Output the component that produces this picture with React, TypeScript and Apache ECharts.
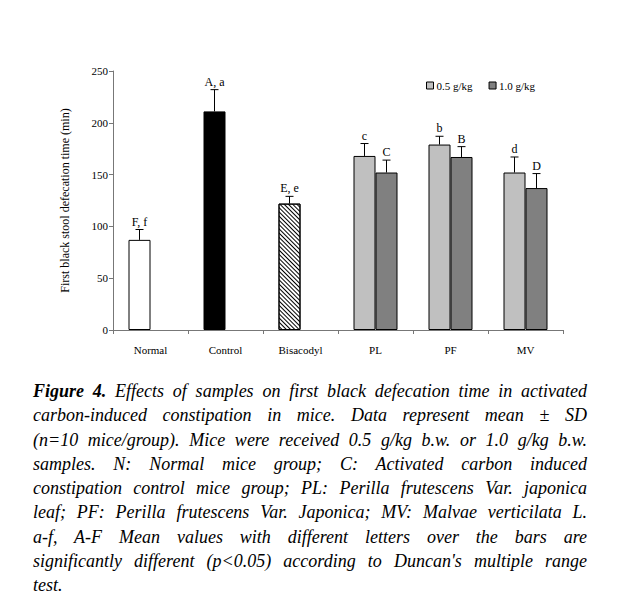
import React, { useEffect, useRef } from "react";
import * as echarts from "echarts";

const categories = ["Normal", "Control", "Bisacodyl", "PL", "PF", "MV"];
const dose05 = [87, 211, 122, 168, 179, 152];
const dose05Sd = [10, 21, 7, 12, 8, 15];
const dose05Letters = ["F, f", "A, a", "E, e", "c", "b", "d"];
const dose10: (number | null)[] = [null, null, null, 152, 167, 137];
const dose10Sd: (number | null)[] = [null, null, null, 12, 10, 14];
const dose10Letters = ["", "", "", "C", "B", "D"];
const seriesNames = ["0.5 g/kg", "1.0 g/kg"];
const yTicks = { min: 0, max: 250, interval: 50 };
const yName = "First black stool defecation time (min)";

const captionLines = [
  "Effects of samples on first black defecation time in activated",
  "carbon-induced constipation in mice. Data represent mean ± SD",
  "(n=10 mice/group). Mice were received 0.5 g/kg b.w. or 1.0 g/kg b.w.",
  "samples. N: Normal mice group; C: Activated carbon induced",
  "constipation control mice group; PL: Perilla frutescens Var. japonica",
  "leaf; PF: Perilla frutescens Var. Japonica; MV: Malvae verticilata L.",
  "a-f, A-F Mean values with different letters over the bars are",
  "significantly different (p<0.05) according to Duncan's multiple range",
  "test.",
];

const FONT = '"Liberation Serif", "Times New Roman", serif';
const BAR_W = 22;

export default function App() {
  const ref = useRef<HTMLDivElement>(null);

  useEffect(() => {
    if (!ref.current) return;
    const chart = echarts.init(ref.current, undefined, { renderer: "svg" });

    const firstColors = ["#ffffff", "#000000", "#ffffff"];
    const s0Data = dose05.map((v, i) => {
      if (i < 3) {
        const item: any = {
          value: v,
          itemStyle: { color: firstColors[i], borderColor: "#000", borderWidth: 1 },
        };
        if (i === 2) {
          item.itemStyle.decal = {
            symbol: "rect",
            symbolSize: 1,
            color: "#000",
            dashArrayX: [1, 0],
            dashArrayY: [1, 2],
            rotation: Math.PI / 4,
          };
        }
        return item;
      }
      return v;
    });

    const errData: any[] = [];
    const errLabels: string[] = [];
    dose05.forEach((v, i) => {
      errData.push([i, v, dose05Sd[i], 0]);
      errLabels.push(dose05Letters[i]);
    });
    dose10.forEach((v, i) => {
      if (v != null) {
        errData.push([i, v, dose10Sd[i], 1]);
        errLabels.push(dose10Letters[i]);
      }
    });

    chart.setOption({
      animation: false,
      backgroundColor: "#ffffff",
      textStyle: { fontFamily: FONT },
      grid: { left: 113, top: 71, width: 450, height: 259 },
      legend: {
        data: seriesNames,
        left: 426,
        top: 80,
        padding: 0,
        itemWidth: 7,
        itemHeight: 7,
        itemGap: 16,
        icon: "rect",
        textStyle: { fontFamily: FONT, fontSize: 11, color: "#000", padding: [0, 0, 0, -2] },
        itemStyle: { borderColor: "#000", borderWidth: 1 },
      },
      xAxis: {
        type: "category",
        data: categories,
        axisLine: { lineStyle: { color: "#777", width: 1 } },
        axisTick: { show: true, length: 4, lineStyle: { color: "#777" } },
        axisLabel: { fontFamily: FONT, fontSize: 11, color: "#000", margin: 14 },
      },
      yAxis: {
        type: "value",
        min: yTicks.min,
        max: yTicks.max,
        interval: yTicks.interval,
        name: yName,
        nameLocation: "middle",
        nameGap: 42,
        nameRotate: 90,
        nameTextStyle: { fontFamily: FONT, fontSize: 12, color: "#000" },
        axisLine: { show: true, lineStyle: { color: "#777", width: 1 } },
        axisTick: { show: true, length: 4, lineStyle: { color: "#777" } },
        axisLabel: { fontFamily: FONT, fontSize: 11, color: "#000", margin: 5 },
        splitLine: { show: false },
      },
      series: [
        {
          name: seriesNames[0],
          type: "bar",
          data: s0Data,
          barWidth: BAR_W,
          barGap: "0%",
          itemStyle: { color: "#c0c0c0", borderColor: "#000", borderWidth: 1 },
        },
        {
          name: seriesNames[1],
          type: "bar",
          data: dose10,
          barWidth: BAR_W,
          barGap: "0%",
          itemStyle: { color: "#808080", borderColor: "#000", borderWidth: 1 },
        },
        {
          type: "custom",
          coordinateSystem: "cartesian2d",
          data: errData,
          encode: { x: 0, y: 1 },
          z: 5,
          renderItem: (params: any, api: any) => {
            const x = api.value(0);
            const v = api.value(1);
            const sd = api.value(2);
            const slot = api.value(3);
            const base = api.coord([x, v]);
            const top = api.coord([x, v + sd]);
            const cx = base[0] + (slot === 0 ? -BAR_W / 2 : BAR_W / 2);
            return {
              type: "group",
              children: [
                {
                  type: "line",
                  shape: { x1: cx, y1: base[1], x2: cx, y2: top[1] },
                  style: { stroke: "#000", lineWidth: 1 },
                },
                {
                  type: "line",
                  shape: { x1: cx - 4, y1: top[1], x2: cx + 4, y2: top[1] },
                  style: { stroke: "#000", lineWidth: 1 },
                },
                {
                  type: "text",
                  x: cx,
                  y: top[1] - 2,
                  style: {
                    text: errLabels[params.dataIndex],
                    textAlign: "center",
                    textVerticalAlign: "bottom",
                    font: `12px ${FONT}`,
                    fill: "#000",
                  },
                },
              ],
            };
          },
        },
      ],
    });

    return () => chart.dispose();
  }, []);

  return (
    <div style={{ position: "absolute", left: 0, top: 0, width: 623, height: 605, background: "#fff" }}>
      <div ref={ref} style={{ position: "absolute", left: 0, top: 0, width: 623, height: 370 }} />
      <div
        style={{
          position: "absolute",
          left: 33,
          top: 379,
          width: 554,
          fontFamily: FONT,
          fontStyle: "italic",
          fontSize: 18,
          lineHeight: "24.3px",
          color: "#000",
        }}
      >
        {captionLines.map((line, i) => (
          <div
            key={i}
            style={{
              textAlign: "justify",
              textAlignLast: i === captionLines.length - 1 ? "left" : "justify",
              whiteSpace: "nowrap",
            }}
          >
            {i === 0 ? <b>Figure 4. </b> : null}
            {line}
          </div>
        ))}
      </div>
    </div>
  );
}
